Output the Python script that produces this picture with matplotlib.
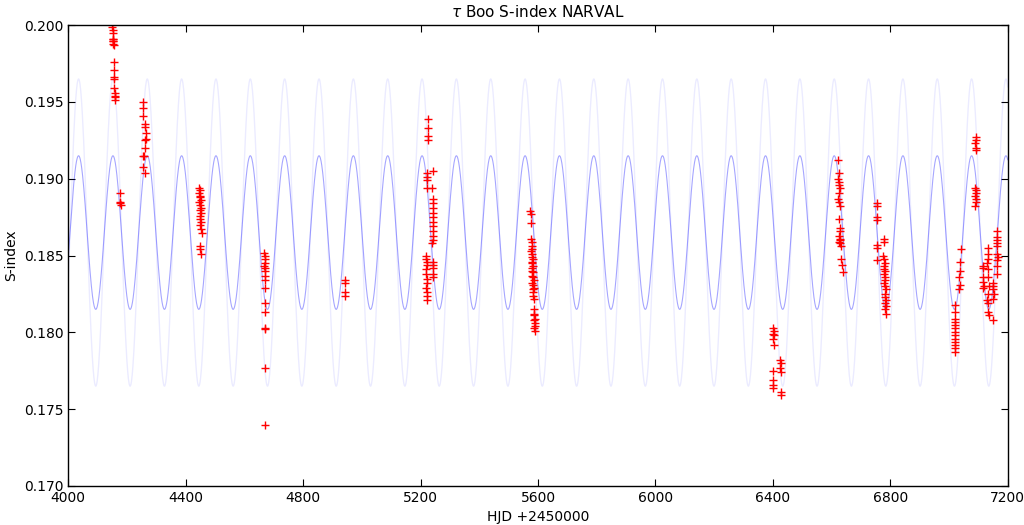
import numpy as np
import matplotlib
matplotlib.use('Agg')
import matplotlib.pyplot as plt

# S-index measurements, grouped by observing season (HJD - 2450000, S-index)
s1_t = [4150, 4151, 4151, 4152, 4152, 4152, 4153, 4153, 4154, 4155, 4156, 4156, 4157, 4157, 4158, 4158,
        4159, 4159]
s1_s = [0.1999, 0.1997, 0.1995, 0.1991, 0.1991, 0.1990, 0.1990, 0.1988, 0.1987, 0.1976, 0.1971, 0.1966,
        0.1965, 0.1959, 0.1956, 0.1954, 0.1953, 0.1951]
s2_t = [4176, 4177, 4177, 4178]
s2_s = [0.1891, 0.1885, 0.1884, 0.1883]
s3_t = [4256, 4254, 4256, 4262, 4261, 4263, 4264, 4262, 4261, 4255, 4259, 4254, 4262]
s3_s = [0.1950, 0.1946, 0.1941, 0.1936, 0.1934, 0.1930, 0.1926, 0.1925, 0.1920, 0.1915, 0.1915,
        0.1908, 0.1904]
s4_t = [4446, 4448, 4445, 4450, 4447, 4452, 4446, 4449, 4451, 4447, 4453, 4450, 4448, 4452, 4449,
        4451, 4454, 4448, 4450, 4452]
s4_s = [0.1894, 0.1893, 0.1891, 0.1889, 0.1888, 0.1886, 0.1885, 0.1883, 0.1881, 0.1880, 0.1878,
        0.1876, 0.1874, 0.1872, 0.1870, 0.1867, 0.1865, 0.1856, 0.1854, 0.1851]
s5_t = [4668, 4670, 4669, 4671, 4668, 4670, 4669, 4671, 4670, 4671, 4669, 4670, 4671, 4670, 4670, 4670]
s5_s = [0.1852, 0.1850, 0.1848, 0.1845, 0.1843, 0.1842, 0.1840, 0.1837, 0.1834, 0.1829, 0.1819,
        0.1813, 0.1803, 0.1802, 0.1777, 0.1740]
s6_t = [4942, 4944, 4942, 4944]
s6_s = [0.1834, 0.1832, 0.1826, 0.1824]
s7_t = [5224, 5224, 5225, 5224,
        5222, 5223, 5222, 5221, 5219, 5220, 5221, 5222, 5219, 5220, 5221, 5222, 5220, 5221, 5222, 5221,
        5241, 5240, 5242, 5241, 5243, 5242, 5241, 5243, 5242, 5241, 5243, 5242, 5240, 5243, 5241, 5242,
        5241, 5242]
s7_s = [0.1939, 0.1933, 0.1928, 0.1925,
        0.1904, 0.1901, 0.1899, 0.1894, 0.1850, 0.1848, 0.1846, 0.1844, 0.1841, 0.1838, 0.1835, 0.1832,
        0.1829, 0.1826, 0.1824, 0.1821,
        0.1905, 0.1894, 0.1887, 0.1884, 0.1881, 0.1878, 0.1875, 0.1872, 0.1869, 0.1866, 0.1863, 0.1860,
        0.1858, 0.1846, 0.1844, 0.1842, 0.1838, 0.1836]
s8_t = [5574, 5576, 5575, 5577, 5579, 5578, 5580, 5577, 5581, 5579, 5582, 5578, 5580, 5583, 5579,
        5581, 5584, 5580, 5582, 5585, 5581, 5583, 5586, 5582, 5584, 5583, 5585, 5586, 5588, 5587, 5589,
        5588, 5590, 5589, 5588, 5590]
s8_s = [0.1879, 0.1877, 0.1871, 0.1861, 0.1859, 0.1856, 0.1854, 0.1853, 0.1851, 0.1849, 0.1848,
        0.1846, 0.1845, 0.1843, 0.1842, 0.1840, 0.1839, 0.1837, 0.1836, 0.1834, 0.1832, 0.1831, 0.1829,
        0.1828, 0.1826, 0.1824, 0.1822, 0.1815, 0.1812, 0.1811, 0.1809, 0.1808, 0.1806, 0.1804, 0.1803,
        0.1801]
s9_t = [6399, 6403, 6401, 6405, 6402, 6404,
        6399, 6401, 6402, 6426, 6428, 6425, 6427, 6399, 6428, 6427]
s9_s = [0.1803, 0.1801, 0.1799, 0.1798, 0.1796, 0.1792,
        0.1775, 0.1769, 0.1766, 0.1782, 0.1780, 0.1777, 0.1774, 0.1764, 0.1761, 0.1759]
s10_t = [6622, 6625, 6623, 6626, 6624, 6627, 6625, 6623, 6626, 6628, 6624, 6627, 6629, 6625, 6628,
         6630, 6626, 6629, 6631, 6633, 6636, 6640]
s10_s = [0.1912, 0.1904, 0.1900, 0.1898, 0.1896, 0.1894, 0.1891, 0.1887, 0.1885, 0.1882, 0.1874,
         0.1868, 0.1866, 0.1863, 0.1861, 0.1860, 0.1859, 0.1858, 0.1856, 0.1848, 0.1844, 0.1839]
s11_t = [6754, 6756, 6754, 6756, 6754, 6756, 6755,
         6778, 6780, 6776, 6779, 6781, 6778, 6780, 6782, 6779, 6781, 6783, 6780, 6782, 6784, 6781,
         6783, 6785, 6782, 6784, 6783, 6785]
s11_s = [0.1884, 0.1882, 0.1875, 0.1873, 0.1857, 0.1855, 0.1847,
         0.1861, 0.1859, 0.1850, 0.1848, 0.1845, 0.1843, 0.1841, 0.1840, 0.1838, 0.1836, 0.1834,
         0.1832, 0.1830, 0.1828, 0.1825, 0.1823, 0.1821, 0.1819, 0.1817, 0.1815, 0.1812]
s12_t = [7040, 7037, 7036, 7034, 7038, 7035, 7020, 7021, 7020, 7022, 7021, 7020, 7022, 7021, 7020,
         7022, 7021, 7020, 7021]
s12_s = [0.1854, 0.1846, 0.1840, 0.1836, 0.1831, 0.1828, 0.1818, 0.1813, 0.1809, 0.1807, 0.1805,
         0.1803, 0.1800, 0.1798, 0.1796, 0.1794, 0.1792, 0.1790, 0.1787]
s13_t = [7091, 7092, 7090, 7091, 7092, 7090, 7091, 7092, 7090, 7091, 7092, 7090]
s13_s = [0.1927, 0.1925, 0.1923, 0.1920, 0.1919, 0.1894, 0.1893, 0.1891, 0.1889, 0.1887, 0.1885,
         0.1882]
s14_t = [7115, 7117, 7116, 7115, 7118, 7116,
         7132, 7134, 7133, 7131, 7134, 7132, 7135, 7133, 7131, 7134, 7132, 7135,
         7150, 7151, 7149, 7152, 7150, 7151,
         7162, 7164, 7163, 7165, 7162, 7164, 7166, 7163, 7165, 7164]
s14_s = [0.1843, 0.1842, 0.1836, 0.1833, 0.1830, 0.1829,
         0.1855, 0.1851, 0.1848, 0.1845, 0.1841, 0.1836, 0.1830, 0.1825, 0.1821, 0.1819, 0.1813,
         0.1811,
         0.1832, 0.1830, 0.1828, 0.1825, 0.1822, 0.1808,
         0.1866, 0.1862, 0.1860, 0.1858, 0.1856, 0.1851, 0.1849, 0.1847, 0.1843, 0.1838]

seasons_t = [s1_t, s2_t, s3_t, s4_t, s5_t, s6_t, s7_t, s8_t, s9_t, s10_t, s11_t, s12_t, s13_t, s14_t]
seasons_s = [s1_s, s2_s, s3_s, s4_s, s5_s, s6_s, s7_s, s8_s, s9_s, s10_s, s11_s, s12_s, s13_s, s14_s]

# sinusoidal cycle model overplotted in the original
period = 117.0       # days
t_peak = 4035.0      # HJD - 2450000 of a maximum
s_mean = 0.1865
amp_inner = 0.005
amp_outer = 0.010

x_ticks = [4000, 4400, 4800, 5200, 5600, 6000, 6400, 6800, 7200]
y_ticks = [0.170, 0.175, 0.180, 0.185, 0.190, 0.195, 0.200]

plt.rcParams['font.family'] = 'DejaVu Sans'
plt.rcParams['font.size'] = 10

fig = plt.figure(figsize=(10.24, 5.25), dpi=100)
ax = fig.add_axes([0.0667, 0.0743, 0.9174, 0.8777])

tt = np.linspace(4000, 7200, 4000)
phase = np.cos(2 * np.pi * (tt - t_peak) / period)
ax.plot(tt, s_mean + amp_outer * phase, color='blue', alpha=0.08, lw=1)
ax.plot(tt, s_mean + amp_inner * phase, color='blue', alpha=0.35, lw=0.8)

hjd = np.concatenate(seasons_t)
sidx = np.concatenate(seasons_s)
ax.plot(hjd, sidx, 'r+', ms=6, mew=1.0)

ax.set_xlim(4000, 7200)
ax.set_ylim(0.170, 0.200)
ax.set_xticks(x_ticks)
ax.set_yticks(y_ticks)
ax.set_yticklabels(['%.3f' % v for v in y_ticks])
ax.tick_params(direction='in', top=True, right=True, length=5, width=0.8, labelsize=10)
for sp in ax.spines.values():
    sp.set_linewidth(1.0)

ax.set_xlabel('HJD +2450000', fontsize=10)
ax.set_ylabel('S-index', fontsize=10)
ax.set_title(r'$\tau$ Boo S-index NARVAL', fontsize=11)

plt.savefig('out.png', dpi=100)
